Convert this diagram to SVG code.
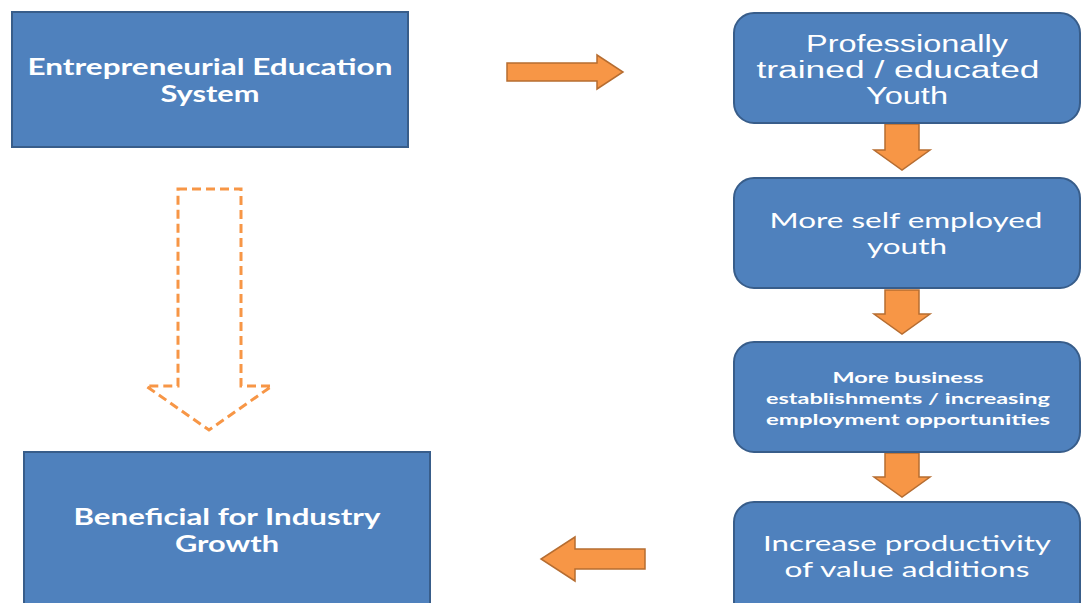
<svg xmlns="http://www.w3.org/2000/svg" width="1083" height="603" viewBox="0 0 1083 603">
  <style>
    .box { fill: #4f81bd; stroke: #385d8a; stroke-width: 2; }
    .arrow { fill: #f79646; stroke: #b66d31; stroke-width: 1.5; stroke-linejoin: miter; }
    .dash { fill: #ffffff; stroke: #f79646; stroke-width: 3; stroke-dasharray: 9 5; }
    .t { fill: #ffffff; text-anchor: middle; }
    .calb { font-family: Lato, "Open Sans", sans-serif; font-weight: bold; }
    .cal { font-family: Lato, "Open Sans", sans-serif; }
    .ari { font-family: "Liberation Sans", Arial, sans-serif; }
  </style>
  <rect width="1083" height="603" fill="#ffffff"/>

  <g id="connectors">
    <!-- right arrow: education system to trained youth -->
    <path class="arrow" d="M507,63 H597 V55 L623,72 L597,89 V81 H507 Z"/>
    <!-- down arrows between the right-hand steps -->
    <path class="arrow" d="M885,124 H919 V150 H930 L902,170 L874,150 H885 Z"/>
    <path class="arrow" d="M885,290 H919 V314 H930 L902,334 L874,314 H885 Z"/>
    <path class="arrow" d="M885,453 H919 V477 H930 L902,497 L874,477 H885 Z"/>
    <!-- left arrow: productivity to industry growth -->
    <path class="arrow" d="M645,549 H575 V537 L541,559 L575,581 V569 H645 Z"/>
    <!-- dashed outline arrow down the left side -->
    <path class="dash" d="M178,189 H241 V386 H272 L209,430 L146,386 H178 Z"/>
  </g>

  <g id="node-education">
    <rect class="box" x="12" y="12" width="396" height="135"/>
    <text class="t calb" font-size="22" x="210" y="75" textLength="365" lengthAdjust="spacingAndGlyphs">Entrepreneurial Education</text>
    <text class="t calb" font-size="22" x="210" y="102" textLength="99" lengthAdjust="spacingAndGlyphs">System</text>
  </g>

  <g id="node-trained-youth">
    <rect class="box" x="734" y="13" width="346" height="110" rx="20" ry="20"/>
    <text class="t ari" font-size="23" x="907" y="52" textLength="202" lengthAdjust="spacingAndGlyphs">Professionally</text>
    <text class="t ari" font-size="23" x="898" y="78" textLength="283" lengthAdjust="spacingAndGlyphs">trained / educated</text>
    <text class="t ari" font-size="23" x="907" y="104" textLength="82" lengthAdjust="spacingAndGlyphs">Youth</text>
  </g>

  <g id="node-self-employed">
    <rect class="box" x="734" y="178" width="346" height="110" rx="20" ry="20"/>
    <text class="t cal" font-size="22" x="906" y="228" textLength="273" lengthAdjust="spacingAndGlyphs">More self employed</text>
    <text class="t cal" font-size="22" x="907" y="254" textLength="80" lengthAdjust="spacingAndGlyphs">youth</text>
  </g>

  <g id="node-business">
    <rect class="box" x="734" y="342" width="346" height="110" rx="20" ry="20"/>
    <text class="t calb" font-size="15" x="908" y="383" textLength="151" lengthAdjust="spacingAndGlyphs">More business</text>
    <text class="t calb" font-size="15" x="908" y="404" textLength="284" lengthAdjust="spacingAndGlyphs">establishments / increasing</text>
    <text class="t calb" font-size="15" x="908" y="425" textLength="284" lengthAdjust="spacingAndGlyphs">employment opportunities</text>
  </g>

  <g id="node-productivity">
    <rect class="box" x="734" y="502" width="346" height="120" rx="20" ry="20"/>
    <text class="t cal" font-size="22" x="907" y="551" textLength="288" lengthAdjust="spacingAndGlyphs">Increase productivity</text>
    <text class="t cal" font-size="22" x="907" y="577" textLength="245" lengthAdjust="spacingAndGlyphs">of value additions</text>
  </g>

  <g id="node-industry-growth">
    <rect class="box" x="24" y="452" width="406" height="160"/>
    <text class="t calb" font-size="22" x="227" y="525" textLength="307" lengthAdjust="spacingAndGlyphs">Beneficial for Industry</text>
    <text class="t calb" font-size="22" x="227" y="552" textLength="104" lengthAdjust="spacingAndGlyphs">Growth</text>
  </g>
</svg>
